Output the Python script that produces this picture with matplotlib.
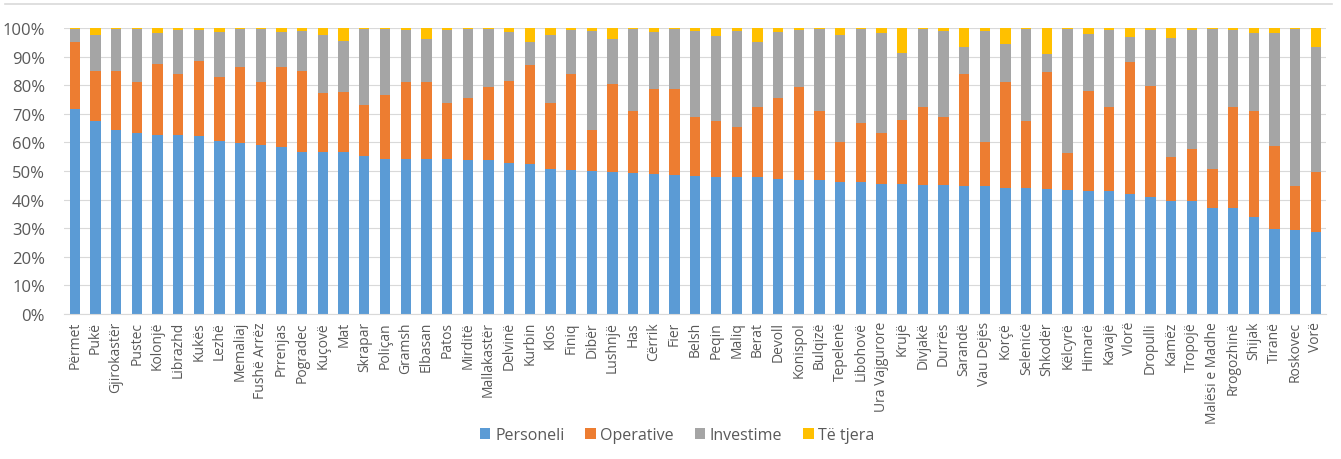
import matplotlib
matplotlib.use("Agg")
import matplotlib.pyplot as plt
from matplotlib.lines import Line2D
import numpy as np

plt.rcParams['font.family'] = ['Open Sans', 'DejaVu Sans']

bashkite = ["Përmet", "Pukë", "Gjirokastër", "Pustec", "Kolonjë", "Librazhd", "Kukës",
            "Lezhë", "Memaliaj", "Fushë Arrëz", "Prrenjas", "Pogradec", "Kuçovë", "Mat",
            "Skrapar", "Poliçan", "Gramsh", "Elbasan", "Patos", "Mirditë", "Mallakastër",
            "Delvinë", "Kurbin", "Klos", "Finiq", "Dibër", "Lushnjë", "Has", "Cërrik",
            "Fier", "Belsh", "Peqin", "Maliq", "Berat", "Devoll", "Konispol", "Bulqizë",
            "Tepelenë", "Libohovë", "Ura Vajgurore", "Krujë", "Divjakë", "Durrës",
            "Sarandë", "Vau Dejës", "Korçë", "Selenicë", "Shkodër", "Këlcyrë", "Himarë",
            "Kavajë", "Vlorë", "Dropulli", "Kamëz", "Tropojë", "Malësi e Madhe",
            "Rrogozhinë", "Shijak", "Tiranë", "Roskovec", "Vorë"]

# shares in %
personeli = [71.7, 67.6, 64.5, 63.2, 62.7, 62.7, 62.2, 60.5, 59.7, 59.2, 58.5, 56.6, 56.6,
             56.6, 55.2, 54.2, 54.2, 54.2, 54.2, 53.8, 53.8, 52.9, 52.4, 50.7, 50.2, 50.0,
             49.7, 49.4, 49.0, 48.7, 48.3, 47.9, 47.9, 47.9, 47.3, 46.9, 46.9, 46.2, 46.2,
             45.5, 45.5, 45.2, 45.2, 44.8, 44.8, 44.1, 44.1, 43.7, 43.4, 43.0, 43.0, 42.0,
             40.9, 39.5, 39.5, 37.1, 37.1, 33.9, 29.7, 29.4, 28.6]
operative = [23.3, 17.2, 20.3, 17.8, 24.6, 21.1, 26.1, 22.5, 26.5, 21.8, 28.0, 28.2, 20.6,
             21.1, 17.8, 22.5, 27.0, 27.0, 19.5, 21.7, 25.6, 28.5, 34.7, 23.0, 33.6, 14.2,
             30.6, 21.7, 29.7, 30.0, 20.5, 19.7, 17.6, 24.4, 28.2, 32.5, 24.2, 13.8, 20.5,
             17.7, 22.4, 27.3, 23.8, 39.0, 15.5, 37.1, 23.5, 40.8, 13.0, 35.1, 29.3, 46.0,
             38.9, 15.3, 18.3, 13.6, 35.4, 37.2, 29.2, 15.4, 20.9]
investime = [4.7, 12.8, 14.9, 18.7, 11.0, 15.5, 11.0, 15.6, 13.5, 18.7, 12.0, 14.0, 20.4,
             17.6, 26.7, 23.0, 18.1, 15.0, 25.6, 24.2, 20.3, 17.1, 8.1, 23.9, 15.5, 34.6,
             15.9, 28.6, 19.8, 21.0, 30.0, 29.5, 33.3, 22.9, 23.0, 19.9, 28.6, 37.6, 33.0,
             35.1, 23.4, 27.2, 29.8, 9.7, 38.5, 13.2, 32.1, 6.3, 43.3, 19.8, 27.0, 8.7,
             19.5, 41.6, 41.5, 49.0, 26.8, 27.2, 39.4, 54.9, 43.7]
te_tjera = [0.3, 2.4, 0.3, 0.3, 1.7, 0.7, 0.7, 1.4, 0.3, 0.3, 1.5, 1.2, 2.4, 4.7, 0.3, 0.3,
            0.7, 3.8, 0.7, 0.3, 0.3, 1.5, 4.8, 2.4, 0.7, 1.2, 3.8, 0.3, 1.5, 0.3, 1.2, 2.9,
            1.2, 4.8, 1.5, 0.7, 0.3, 2.4, 0.3, 1.7, 8.7, 0.3, 1.2, 6.5, 1.2, 5.6, 0.3, 9.2,
            0.3, 2.1, 0.7, 3.3, 0.7, 3.6, 0.7, 0.3, 0.7, 1.7, 1.7, 0.3, 6.8]

series = [("Personeli", personeli, "#5B9BD5"),
          ("Operative", operative, "#ED7D31"),
          ("Investime", investime, "#A5A5A5"),
          ("Të tjera", te_tjera, "#FFC000")]

fig = plt.figure(figsize=(13.41, 4.6), dpi=100)
ax = fig.add_axes([0.048, 0.315, 0.941, 0.622])

x = np.arange(len(bashkite))
bottom = np.zeros(len(bashkite))
for name, vals, col in series:
    vals = np.array(vals) / 100
    ax.bar(x, vals, 0.5, bottom=bottom, color=col, label=name, zorder=2)
    bottom += vals

ax.set_xlim(-0.5, len(bashkite) - 0.5)
ax.set_ylim(0, 1)
ax.set_yticks(np.arange(0, 1.01, 0.1))
ax.set_yticklabels([f"{int(round(v * 100))}%" for v in np.arange(0, 1.01, 0.1)])
ax.set_xticks(x)
ax.set_xticklabels(bashkite, rotation=90)
ax.grid(axis='y', color='#D9D9D9', linewidth=0.8, zorder=0)
for s in ['top', 'right', 'left']:
    ax.spines[s].set_visible(False)
ax.spines['bottom'].set_color('#D9D9D9')
ax.tick_params(axis='both', length=0, colors='#595959')
ax.tick_params(axis='y', labelsize=12, pad=14)
ax.tick_params(axis='x', labelsize=10, pad=5)

fig.legend(loc='center', bbox_to_anchor=(0.505, 0.052), ncol=4, frameon=False,
           fontsize=11.5, handlelength=0.65, handleheight=0.65, handletextpad=0.3,
           columnspacing=1.3, labelcolor='#595959')

fig.add_artist(Line2D([0.004, 0.993], [0.99, 0.99], color='#D9D9D9', linewidth=1.2))

fig.savefig("out.png", dpi=100)
